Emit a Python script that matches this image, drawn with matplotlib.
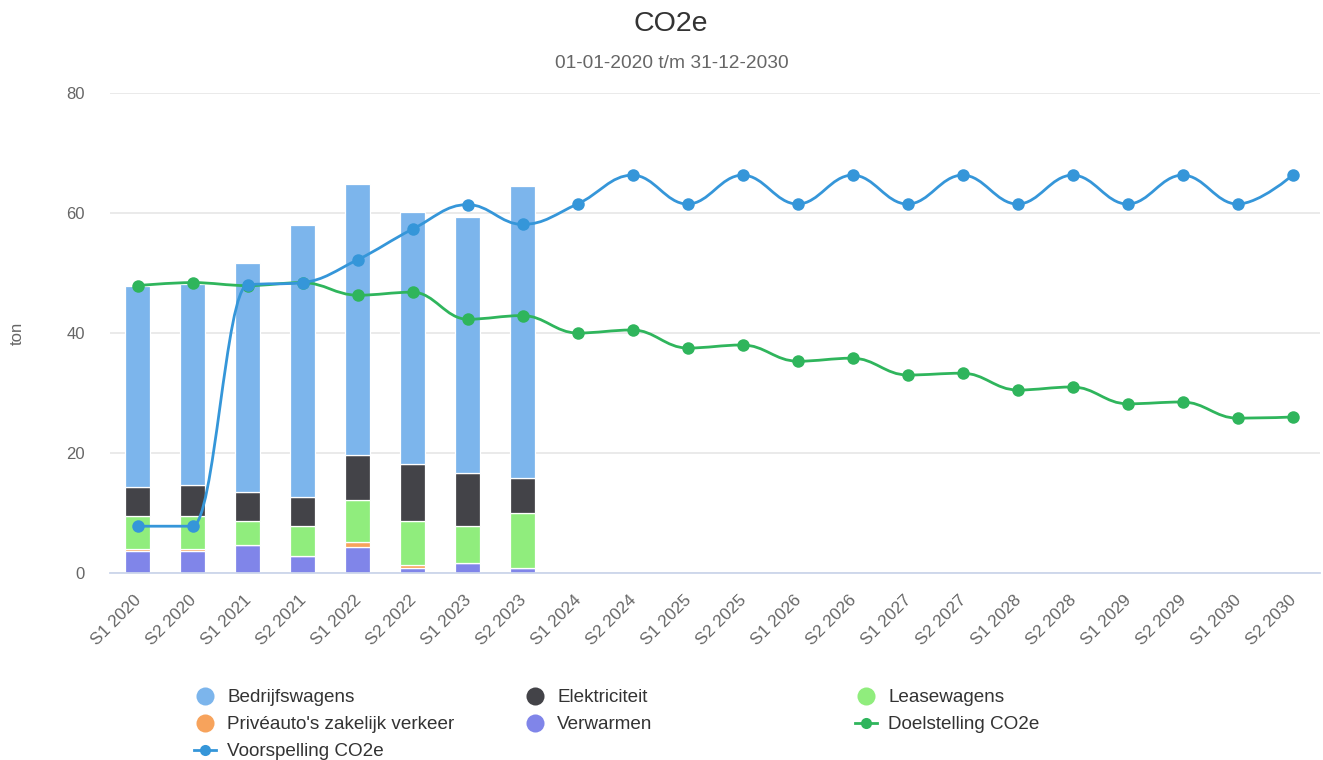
import numpy as np
import matplotlib
matplotlib.use("Agg")
import matplotlib.pyplot as plt
import matplotlib.transforms as mtransforms
from matplotlib.path import Path
from matplotlib.patches import PathPatch
from matplotlib.lines import Line2D

plt.rcParams["font.family"] = ["Liberation Sans", "DejaVu Sans"]

# =========================
# data
# =========================
periods = ["S1 2020", "S2 2020", "S1 2021", "S2 2021", "S1 2022", "S2 2022",
           "S1 2023", "S2 2023", "S1 2024", "S2 2024", "S1 2025", "S2 2025",
           "S1 2026", "S2 2026", "S1 2027", "S2 2027", "S1 2028", "S2 2028",
           "S1 2029", "S2 2029", "S1 2030", "S2 2030"]

# stacked bars (only 2020-2023 measured)
bedrijfswagens = [33.5, 33.6, 38.2, 45.3, 45.3, 41.9, 42.7, 48.6]
elektriciteit = [4.8, 5.1, 4.8, 4.8, 7.5, 9.6, 8.8, 5.95]
leasewagens = [5.55, 5.55, 4.1, 5.1, 7.0, 7.3, 6.2, 9.05]
priveauto = [0.35, 0.35, 0.0, 0.0, 0.7, 0.4, 0.0, 0.0]
verwarmen = [3.6, 3.6, 4.6, 2.8, 4.4, 0.9, 1.7, 0.9]

doelstelling = [47.9, 48.4, 47.9, 48.4, 46.3, 46.8, 42.3, 42.9, 40.0, 40.5,
                37.5, 38.0, 35.3, 35.8, 33.0, 33.3, 30.5, 31.0, 28.2, 28.5,
                25.8, 26.0]
voorspelling = [7.8, 7.8, 48.0, 48.4, 52.2, 57.3, 61.4, 58.1, 61.5, 66.3,
                61.5, 66.3, 61.5, 66.3, 61.5, 66.3, 61.5, 66.3, 61.5, 66.3,
                61.5, 66.3]

C_BEDRIJF = "#7cb5ec"
C_ELEK = "#434348"
C_LEASE = "#90ed7d"
C_PRIVE = "#f7a35c"
C_VERW = "#8085e9"
C_DOEL = "#2fb55c"
C_VOOR = "#3596d9"


def spline_path(xs, ys, smoothing=1.5):
    """Highcharts-achtige spline: cubic bezier met controlepunten per punt."""
    n = len(xs)
    lc = [None] * n
    rc = [None] * n
    d = smoothing + 1
    for i in range(n):
        x, y = xs[i], ys[i]
        if 0 < i < n - 1:
            lx, ly = xs[i - 1], ys[i - 1]
            nx, ny = xs[i + 1], ys[i + 1]
            lcx = (smoothing * x + lx) / d
            lcy = (smoothing * y + ly) / d
            rcx = (smoothing * x + nx) / d
            rcy = (smoothing * y + ny) / d
            corr = (rcy - lcy) * (rcx - x) / (rcx - lcx) + y - rcy
            lcy += corr
            rcy += corr
            if lcy > ly and lcy > y:
                lcy = max(ly, y)
                rcy = 2 * y - lcy
            elif lcy < ly and lcy < y:
                lcy = min(ly, y)
                rcy = 2 * y - lcy
            if rcy > ny and rcy > y:
                rcy = max(ny, y)
                lcy = 2 * y - rcy
            elif rcy < ny and rcy < y:
                rcy = min(ny, y)
                lcy = 2 * y - rcy
            lc[i] = (lcx, lcy)
            rc[i] = (rcx, rcy)
        else:
            lc[i] = rc[i] = (x, y)
    verts = [(xs[0], ys[0])]
    codes = [Path.MOVETO]
    for i in range(1, n):
        verts += [rc[i - 1], lc[i], (xs[i], ys[i])]
        codes += [Path.CURVE4] * 3
    return Path(verts, codes)


W, H = 1323, 760
fig = plt.figure(figsize=(W / 100, H / 100), dpi=100)
ax = fig.add_axes([110 / W, 1 - 573 / H, 1210 / W, 480 / H])

x_all = np.arange(len(periods))
x_bar = np.arange(len(bedrijfswagens))
bw = 0.47

bottom = np.zeros(len(x_bar))
for vals, col in [(verwarmen, C_VERW), (priveauto, C_PRIVE), (leasewagens, C_LEASE),
                  (elektriciteit, C_ELEK), (bedrijfswagens, C_BEDRIJF)]:
    vals = np.array(vals)
    ax.bar(x_bar, vals, bw, bottom=bottom, color=col, edgecolor="white",
           linewidth=0.9, zorder=2)
    bottom += vals

for vals, col, z in [(doelstelling, C_DOEL, 3), (voorspelling, C_VOOR, 4)]:
    p = spline_path(list(x_all.astype(float)), vals)
    ax.add_patch(PathPatch(p, fill=False, edgecolor=col, lw=2.0,
                           capstyle="round", joinstyle="round", zorder=z))
    ax.plot(x_all, vals, "o", color=col, ms=9, mec=col, mew=0, zorder=z + 0.5)

ax.set_xlim(-0.5, len(periods) - 0.5)
ax.set_ylim(0, 80)
ax.set_yticks([0, 20, 40, 60, 80])
ax.grid(axis="y", color="#e6e6e6", lw=1.2, zorder=0)
ax.set_axisbelow(True)
for s in ["top", "right", "left"]:
    ax.spines[s].set_visible(False)
ax.spines["bottom"].set_color("#ccd6eb")
ax.spines["bottom"].set_linewidth(1.3)
ax.spines["bottom"].set_zorder(5)
ax.tick_params(axis="y", length=0, pad=18, labelsize=12, labelcolor="#666666")
ax.tick_params(axis="x", length=0, pad=14, labelsize=12.3, labelcolor="#666666")
ax.set_xticks(x_all)
ax.set_xticklabels(periods, rotation=45, ha="right", va="top",
                   rotation_mode="anchor")
shift = mtransforms.ScaledTranslation(-4 / 100, 0, fig.dpi_scale_trans)
for lab in ax.get_xticklabels():
    lab.set_transform(lab.get_transform() + shift)

fig.text(17 / W, 1 - 333 / H, "ton", rotation=90, ha="center", va="center",
         fontsize=12, color="#666666")
fig.text(671 / W, 1 - 24 / H, "CO2e", ha="center", va="center",
         fontsize=20.5, color="#333333")
fig.text(672 / W, 1 - 63 / H, "01-01-2020 t/m 31-12-2030", ha="center",
         va="center", fontsize=13.8, color="#666666")

# legend: three columns like the original
def dot(col):
    return Line2D([], [], ls="none", marker="o", ms=13, color=col, mew=0)


def line(col):
    return Line2D([], [], ls="-", lw=2.0, marker="o", ms=8, color=col, mew=0)


columns = [
    (194, [(dot(C_BEDRIJF), "Bedrijfswagens"),
           (dot(C_PRIVE), "Privéauto's zakelijk verkeer"),
           (line(C_VOOR), "Voorspelling CO2e")]),
    (524, [(dot(C_ELEK), "Elektriciteit"),
           (dot(C_VERW), "Verwarmen")]),
    (855, [(dot(C_LEASE), "Leasewagens"),
           (line(C_DOEL), "Doelstelling CO2e")]),
]
for xpx, items in columns:
    leg = fig.legend([h for h, _ in items], [t for _, t in items],
                     loc="upper left", bbox_to_anchor=(xpx / W, 1 - 689 / H),
                     frameon=False, fontsize=13.6, handlelength=1.15,
                     handletextpad=0.6, labelspacing=0.52, borderpad=0,
                     borderaxespad=0)
    for t in leg.get_texts():
        t.set_color("#333333")

fig.savefig("out.png", dpi=100)
